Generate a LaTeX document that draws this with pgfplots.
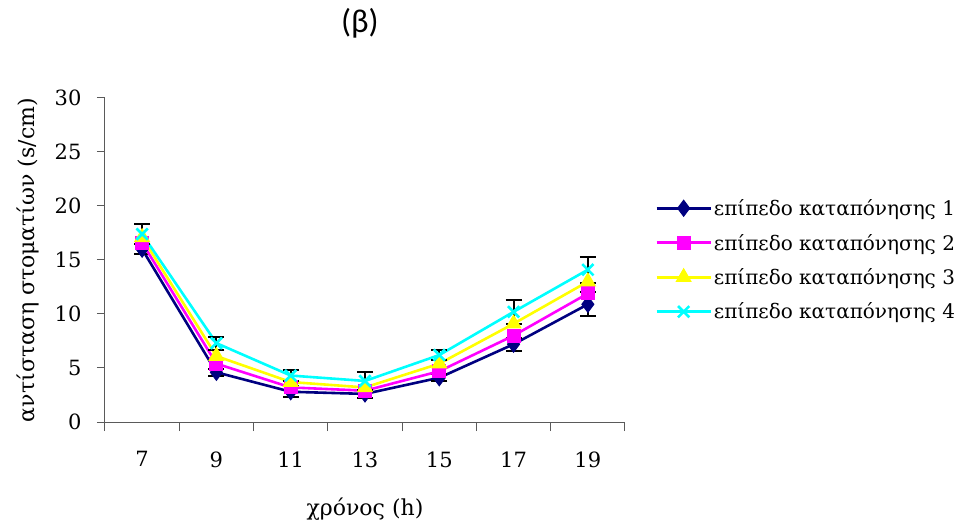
\documentclass[border=0pt]{standalone}
\usepackage{fontspec}
\setmainfont{DejaVu Serif}
\newfontfamily\titlefont{Carlito}
\usepackage{pgfplots}
\pgfplotsset{compat=1.18}
\definecolor{s1}{RGB}{0,0,128}
\definecolor{s2}{RGB}{255,0,255}
\definecolor{s3}{RGB}{255,255,0}
\definecolor{s4}{RGB}{0,255,255}
\definecolor{axgray}{RGB}{90,90,90}
\begin{document}
\begin{tikzpicture}
\useasboundingbox (-105pt,-102pt) rectangle (855pt,422pt);
\begin{axis}[
  at={(0,0)}, anchor=south west,
  scale only axis, width=520pt, height=324pt,
  xmin=-0.5, xmax=6.5, ymin=0, ymax=30,
  axis x line*=bottom, axis y line*=left,
  axis line style={axgray, line width=1pt},
  xtick={0,...,6}, xticklabels={7,9,11,13,15,17,19},
  major x tick style={draw=none},
  minor xtick={-0.5,0.5,...,6.5},
  minor x tick style={axgray, line width=1pt},
  ytick={0,5,...,30},
  y tick style={axgray, line width=1pt},
  tick align=outside,
  major tick length=8pt, minor tick length=9pt,
  /pgf/number format/assume math mode=true,
  tick label style={font=\fontsize{21}{25}\selectfont},
  x tick label style={yshift=-18pt},
  y tick label style={xshift=-12pt},
  xlabel={χρόνος (h)},
  ylabel={αντίσταση στοματίων (s/cm)},
  label style={font=\fontsize{22}{26}\selectfont},
  xlabel style={at={(0.5,0)}, anchor=center, yshift=-87pt},
  ylabel style={at={(0,0.5)}, anchor=center, yshift=77pt},
  title={\titlefont (β)},
  title style={at={(0.49,1.213)}, anchor=center, font=\fontsize{33}{38}\selectfont},
  legend style={at={(1.058,0.5)}, anchor=west, draw=none, fill=none,
    font=\fontsize{20}{24}\selectfont, row sep=13pt, inner sep=0pt},
  legend cell align=left,
  legend image code/.code={
    \draw[#1, mark repeat=2, mark phase=2] plot coordinates {(0pt,0pt) (27pt,0pt) (54pt,0pt)};
  },
  every axis plot/.append style={line width=2.6pt},
  error bars/error bar style={black, line width=2pt},
  error bars/error mark options={black, line width=2pt, mark size=8pt, rotate=90},
]
\addplot[s1, mark=diamond*, mark size=8pt, mark options={solid, fill=s1, line width=1pt},
  error bars/.cd, y dir=both, y explicit] coordinates {
  (0,16.0) +- (0,0.45)
  (1,4.6)  +- (0,0.35)
  (2,2.8)  +- (0,0.5)
  (3,2.6)  +- (0,0.4)
  (4,4.1)  +- (0,0.35)
  (5,7.2)  +- (0,0.6)
  (6,10.9) +- (0,1.1)
};
\addlegendentry{επίπεδο καταπόνησης 1}
\addplot[s2, mark=square*, mark size=6.5pt, mark options={solid, fill=s2, line width=1pt}] coordinates {
  (0,16.6) (1,5.4) (2,3.2) (3,2.9) (4,4.7) (5,8.0) (6,11.9)
};
\addlegendentry{επίπεδο καταπόνησης 2}
\addplot[s3, mark=triangle*, mark size=8.5pt, mark options={solid, fill=s3, line width=1pt}] coordinates {
  (0,17.1) (1,6.1) (2,3.7) (3,3.2) (4,5.4) (5,9.1) (6,13.0)
};
\addlegendentry{επίπεδο καταπόνησης 3}
\addplot[s4, mark=x, mark size=8pt, mark options={solid, line width=2.6pt},
  error bars/.cd, y dir=both, y explicit] coordinates {
  (0,17.4) +- (0,0.9)
  (1,7.3)  +- (0,0.6)
  (2,4.3)  +- (0,0.5)
  (3,3.8)  +- (0,0.8)
  (4,6.2)  +- (0,0.45)
  (5,10.2) +- (0,1.1)
  (6,14.1) +- (0,1.2)
};
\addlegendentry{επίπεδο καταπόνησης 4}
\end{axis}
\end{tikzpicture}
\end{document}
